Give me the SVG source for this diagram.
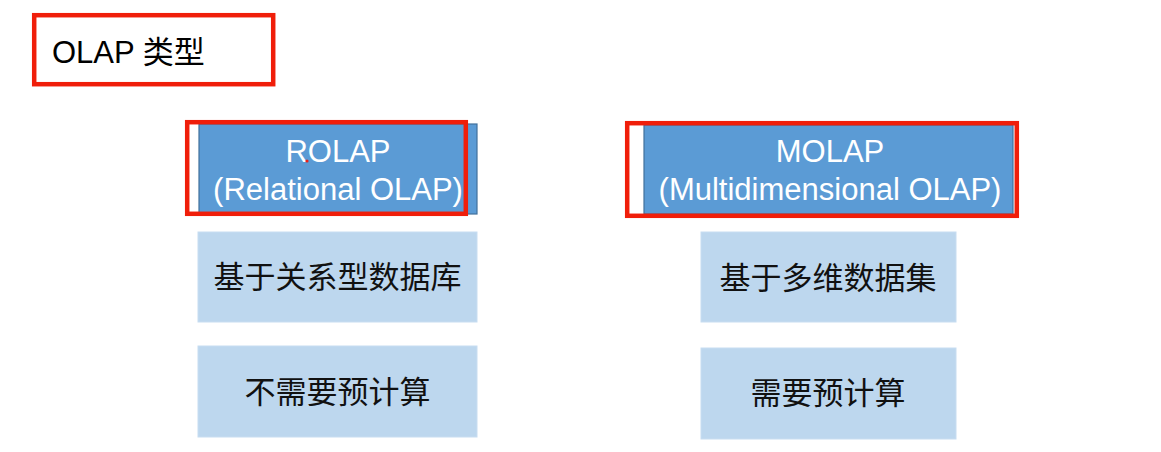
<svg xmlns="http://www.w3.org/2000/svg" width="1161" height="452" viewBox="0 0 1161 452">
<style>
.hl{fill:none;stroke:#F01E0A;stroke-width:4.5}
.head{fill:#5B9BD5;stroke:#41719C;stroke-width:1.2}
.cell{fill:#BDD7EE;stroke:#C8DDF1;stroke-width:1}
.ht{font-family:"Liberation Sans",Arial,sans-serif;font-size:31px;fill:#FFFFFF;text-anchor:middle}
.ct{font-family:"Noto Sans CJK SC","Liberation Sans",sans-serif;font-size:31px;fill:#111111;text-anchor:middle}
.tt{font-family:"Liberation Sans","Noto Sans CJK SC",sans-serif;font-size:31px;fill:#000000}
</style>
<rect width="1161" height="452" fill="#FFFFFF"/>
<g id="title">
<text class="tt" x="52" y="63">OLAP 类型</text>
<rect class="hl" x="34.2" y="15.2" width="239" height="69"/>
</g>
<g id="rolap">
<rect class="head" x="199" y="124" width="278" height="90"/>
<text class="ht" x="338" y="162">ROLAP</text>
<text class="ht" x="338" y="200">(Relational OLAP)</text>
<circle cx="307" cy="161" r="1.6" fill="#E8201A"/>
<rect class="hl" x="187.2" y="122.2" width="278.6" height="91.6"/>
</g>
<g id="molap">
<rect class="head" x="644" y="125" width="369" height="89"/>
<text class="ht" x="830" y="162">MOLAP</text>
<text class="ht" x="830" y="200">(Multidimensional OLAP)</text>
<rect class="hl" x="627.2" y="123.2" width="389.6" height="92.6"/>
</g>
<g id="rolap-base">
<rect class="cell" x="198" y="232" width="279" height="90"/>
<text class="ct" x="337.5" y="288">基于关系型数据库</text>
</g>
<g id="rolap-precalc">
<rect class="cell" x="198" y="346" width="279" height="91"/>
<text class="ct" x="337.5" y="403">不需要预计算</text>
</g>
<g id="molap-base">
<rect class="cell" x="701" y="232" width="255" height="90"/>
<text class="ct" x="828" y="289">基于多维数据集</text>
</g>
<g id="molap-precalc">
<rect class="cell" x="701" y="348" width="255" height="91"/>
<text class="ct" x="828" y="404">需要预计算</text>
</g>
<g id="connectors"></g>
</svg>
